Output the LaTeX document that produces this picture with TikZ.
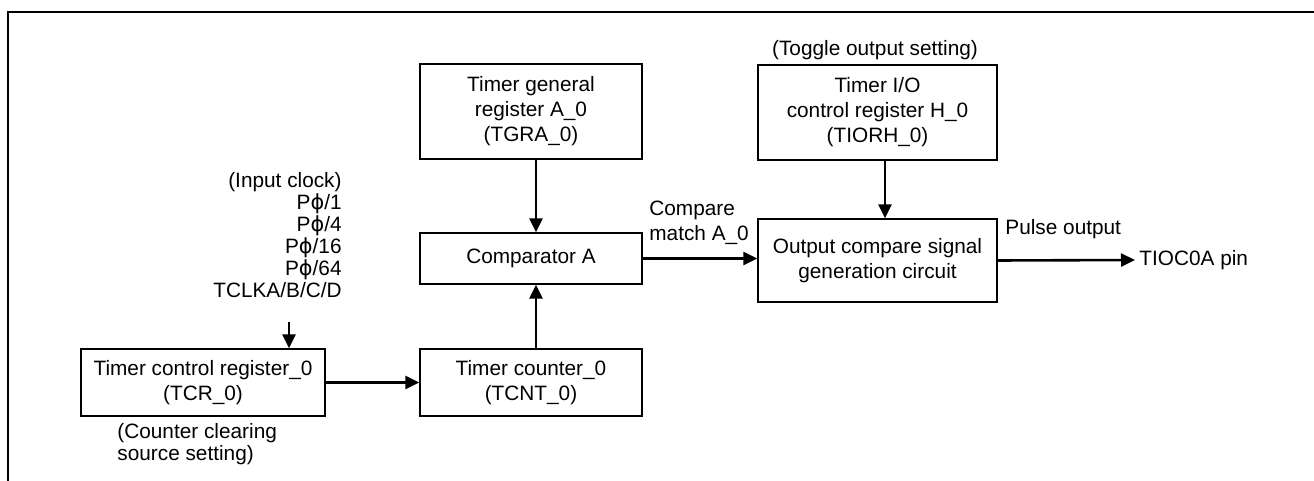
\documentclass[tikz,border=0pt]{standalone}
\usepackage{fontspec}
\setmainfont{Liberation Sans}
\newfontfamily\dvsfont{DejaVu Sans}
\newcommand{\myphi}{{\dvsfont ϕ}}
\usetikzlibrary{arrows.meta}
\begin{document}
\begin{tikzpicture}[x=0.5pt,y=-0.5pt,
  every node/.style={font=\fontsize{10.4}{12.5}\selectfont},
  regbox/.style={draw,line width=0.6pt,align=center,inner sep=0pt},
  arr/.style={line width=1.3pt,-{Triangle[length=7pt,width=6.5pt]}},
  lbl/.style={inner sep=0pt},
  small/.style={font=\fontsize{10.4}{11}\selectfont}]
\useasboundingbox (0,0) rectangle (1314,481);
% frame
\draw[line width=1pt] (8,481) -- (8,12) -- (1314,12);
% boxes
\node[regbox,minimum width=111pt,minimum height=47.5pt] (tgra) at (531,111.5) {Timer general\\register A\_0\\(TGRA\_0)};
\node[regbox,minimum width=111pt,minimum height=25.5pt] (comp) at (531,258.5) {Comparator A};
\node[regbox,minimum width=111pt,minimum height=33.5pt] (tcnt) at (531,382.5) {Timer counter\_0\\(TCNT\_0)};
\node[regbox,minimum width=122pt,minimum height=33.5pt] (tcr) at (203,382.5) {Timer control register\_0\\(TCR\_0)};
\node[regbox,minimum width=119.5pt,minimum height=47.5pt] (tiorh) at (877.5,112.5) {Timer I/O\\control register H\_0\\(TIORH\_0)};
\node[regbox,minimum width=119.5pt,minimum height=41.5pt] (oc) at (877.5,260.5) {Output compare signal\\generation circuit};
% labels
\node[lbl] (toggle) at (875,50) {(Toggle output setting)};
\node[lbl,small,align=right,anchor=east] (clock) at (342,235) {(Input clock)\\P\myphi/1\\P\myphi/4\\P\myphi/16\\P\myphi/64\\TCLKA/B/C/D};
\node[lbl,small,align=left,anchor=west] (clear) at (117,444) {(Counter clearing\\source setting)};
\node[lbl,align=left,anchor=west] (cmatch) at (649,222.5) {Compare\\match A\_0};
\node[lbl,anchor=west] (pulse) at (1005,229) {Pulse output};
\node[anchor=west,inner sep=2pt] (pin) at (1135,260) {TIOC0A pin};
% helper coordinates
\coordinate (cx) at (536,0);
\coordinate (hx) at (885,0);
\coordinate (clk) at (289,322);
% connectors
\draw[arr] (tgra.south -| cx) -- (comp.north -| cx);
\draw[arr] (tcnt.north -| cx) -- (comp.south -| cx);
\draw[arr] (tiorh.south -| hx) -- (oc.north -| hx);
\draw[arr] (comp.east) -- (comp.east -| oc.west);
\draw[arr] (tcr.east) -- (tcr.east -| tcnt.west);
\draw[arr] (oc.east) -- (pin.west);
\draw[arr] (clk) -- (clk |- tcr.north);
\end{tikzpicture}
\end{document}
